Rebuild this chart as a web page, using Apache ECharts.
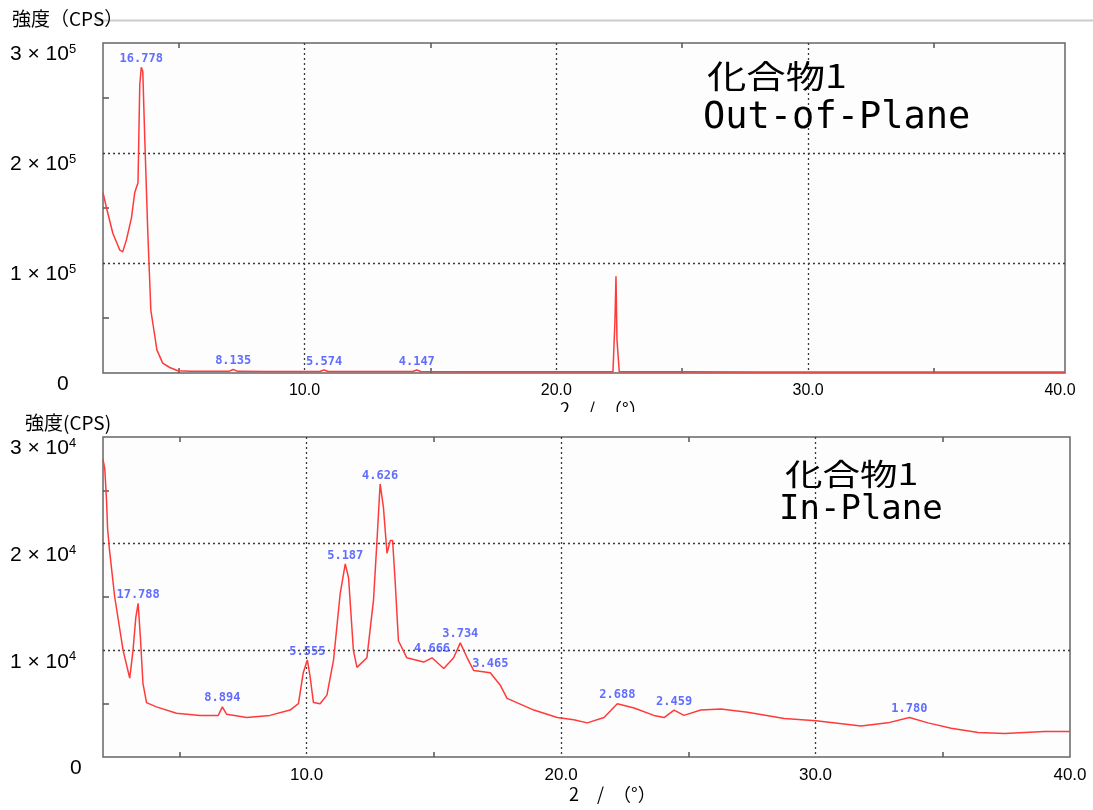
<!DOCTYPE html>
<html>
<head>
<meta charset="utf-8">
<script src="https://cdn.jsdelivr.net/npm/echarts@6/dist/echarts.min.js"></script>
<style>
html, body { margin: 0; background: #fff; }
#main { width: 1093px; height: 810px; }
</style>
</head>
<body>
<div id="main"></div>
<script>
// Out-of-Plane : 2θ (°) / 強度 (CPS)
var outX = [2.0, 2.14, 2.39, 2.66, 2.78, 2.93, 3.13, 3.26, 3.39, 3.46, 3.52, 3.58, 3.66, 3.78, 3.9, 3.98, 4.14, 4.37, 4.65, 4.97,
  5.5, 6.2, 7.0, 7.17, 7.35, 8.5, 10.6, 10.78, 10.95, 12.5, 14.3, 14.46, 14.62, 17.0, 20.0, 22.25, 22.33, 22.37, 22.41, 22.5,
  25.0, 28.0, 32.0, 36.0, 40.2];
var outY = [164000, 150000, 127000, 112000, 110000, 121000, 141000, 164000, 173000, 262000, 278000, 274000, 212000, 127000, 57000, 45000, 21000, 9000, 5000, 2000,
  1700, 1500, 1500, 3200, 1500, 1400, 1300, 2700, 1300, 1300, 1300, 2700, 1300, 1200, 1100, 1200, 48000, 88000, 30000, 1200,
  1100, 1000, 1000, 1000, 1000];
var outPeakX = [3.52, 7.17, 10.78, 14.46];
var outPeakY = [278000, 3200, 2700, 2700];
var outPeakText = ['16.778', '8.135', '5.574', '4.147'];

// In-Plane
var inX = [2.0, 2.07, 2.14, 2.18, 2.26, 2.46, 2.79, 3.05, 3.18, 3.29, 3.38, 3.47, 3.57, 3.71, 4.1, 4.89, 5.81, 6.53, 6.69, 6.86,
  7.65, 8.56, 9.35, 9.68, 9.87, 10.03, 10.14, 10.27, 10.53, 10.8, 11.06, 11.32, 11.52, 11.65, 11.84, 11.98, 12.37, 12.63, 12.76, 12.89,
  13.02, 13.16, 13.29, 13.38, 13.48, 13.61, 13.94, 14.6, 14.93, 15.39, 15.78, 16.04, 16.31, 16.57, 17.22, 17.62, 17.88, 18.93, 19.85, 20.5,
  21.03, 21.69, 22.21, 22.87, 23.65, 24.05, 24.44, 24.83, 25.49, 26.28, 27.33, 28.77, 30.02, 31.79, 32.84, 33.69, 34.42, 35.33, 36.39, 37.43,
  39.0, 40.0];
var inY = [27900, 27000, 24000, 21400, 19300, 15000, 10000, 7400, 10000, 13100, 14400, 11200, 6900, 5100, 4700, 4100, 3900, 3900, 4700, 4000,
  3700, 3900, 4400, 5000, 7900, 9100, 7500, 5100, 5000, 5800, 9100, 15300, 18100, 16800, 10000, 8400, 9300, 14700, 20000, 25600,
  23400, 19100, 20300, 20300, 16500, 10900, 9300, 8900, 9300, 8300, 9300, 10700, 9300, 8100, 7900, 6700, 5500, 4400, 3700, 3500,
  3200, 3700, 5000, 4600, 3900, 3700, 4400, 3900, 4400, 4500, 4200, 3600, 3400, 2900, 3200, 3700, 3200, 2700, 2300, 2200,
  2400, 2400];
var inPeakX = [3.38, 6.69, 10.03, 11.52, 12.89, 14.93, 16.04, 17.22, 22.21, 24.44, 33.69];
var inPeakY = [14400, 4700, 9100, 18100, 25600, 9300, 10700, 7900, 5000, 4400, 3700];
var inPeakText = ['17.788', '8.894', '5.555', '5.187', '4.626', '4.666', '3.734', '3.465', '2.688', '2.459', '1.780'];

var xLabelTicks = [10, 20, 30, 40];
var xMinorTicks = [5, 15, 25, 35];
var xGridTicks = [10, 20, 30];
var outYTicks = [0, 100000, 200000, 300000];
var outYMinor = [50000, 150000, 250000];
var outYGrid = [100000, 200000];
var inYTicks = [0, 10000, 20000, 30000];
var inYMinor = [5000, 15000, 25000];
var inYGrid = [10000, 20000];

var myChart = echarts.init(document.getElementById('main'));

var FONT = '"Liberation Sans", Arial, sans-serif';
var dotted = { show: true, lineStyle: { color: '#3a3a3a', width: 1.3, type: [2, 3] } };

function zip(xs, ys) {
  return xs.map(function (x, i) { return [x, ys[i]]; });
}
function peaks(xs, ys, txt) {
  return xs.map(function (x, i) { return { value: [x, ys[i]], name: txt[i] }; });
}
function yLabel(exp, zeroPad) {
  return {
    customValues: null,
    align: 'left',
    verticalAlign: 'top',
    color: '#000',
    formatter: function (v) {
      if (v === 0) return '{z|0}';
      return '{a|' + Math.round(v / Math.pow(10, exp)) + ' × 10}{s|' + exp + '}';
    },
    rich: {
      a: { fontSize: 21, fontFamily: FONT, color: '#000', verticalAlign: 'bottom', lineHeight: 22, padding: [3, 0, 0, 0] },
      s: { fontSize: 13, fontFamily: FONT, color: '#000', verticalAlign: 'top', lineHeight: 14 },
      z: { fontSize: 21, fontFamily: FONT, color: '#000', padding: [0, 0, 0, zeroPad], lineHeight: 22 }
    }
  };
}

function xAxes(gi, max, fontSize) {
  return [
    {
      type: 'value', gridIndex: gi, position: 'bottom', min: 2, max: max,
      axisLine: { show: false },
      axisTick: { show: true, inside: true, length: 5, customValues: xMinorTicks, lineStyle: { color: '#555', width: 1.5 } },
      axisLabel: {
        customValues: xLabelTicks, margin: 10, color: '#000', fontSize: fontSize, fontFamily: FONT,
        formatter: function (v) { return v.toFixed(1); }
      },
      splitLine: { show: false }
    },
    {
      type: 'value', gridIndex: gi, position: 'bottom', min: 2, max: max,
      axisLine: { show: false },
      axisTick: { show: false, customValues: xGridTicks },
      axisLabel: { show: false },
      splitLine: dotted
    },
    {
      type: 'value', gridIndex: gi, position: 'top', min: 2, max: max,
      axisLine: { show: false },
      axisTick: { show: true, inside: true, length: 5, customValues: xMinorTicks, lineStyle: { color: '#555', width: 1.5 } },
      axisLabel: { show: false },
      splitLine: { show: false }
    }
  ];
}

function yAxes(gi, max, labels, minor, grid, exp, zeroPad) {
  var lab = yLabel(exp, zeroPad);
  lab.customValues = labels;
  lab.margin = 93;
  return [
    {
      type: 'value', gridIndex: gi, position: 'left', min: 0, max: max,
      axisLine: { show: false },
      axisTick: { show: true, inside: true, length: 6, customValues: minor, lineStyle: { color: '#555', width: 1.5 } },
      axisLabel: lab,
      splitLine: { show: false }
    },
    {
      type: 'value', gridIndex: gi, position: 'left', min: 0, max: max,
      axisLine: { show: false },
      axisTick: { show: false, customValues: grid },
      axisLabel: { show: false },
      splitLine: dotted
    }
  ];
}

var lineStyle = { color: '#ff3a3a', width: 1.5 };
var peakLabel = {
  show: true, position: 'top', distance: 2, formatter: '{b}',
  fontFamily: '"DejaVu Sans Mono", monospace', fontSize: 12, fontWeight: 'bold', color: '#3848ff'
};

var option = {
  backgroundColor: '#ffffff',
  animation: false,
  grid: [
    { left: 103, right: 28, top: 43, height: 330, show: true, borderColor: '#666', borderWidth: 1.5, backgroundColor: '#fdfdfd', outerBoundsMode: 'none' },
    { left: 103, right: 23, top: 437, height: 320, show: true, borderColor: '#666', borderWidth: 1.5, backgroundColor: '#fdfdfd', outerBoundsMode: 'none' }
  ],
  xAxis: xAxes(0, 40.2, 16).concat(xAxes(1, 40, 17)),
  yAxis: yAxes(0, 300000, outYTicks, outYMinor, outYGrid, 5, 47).concat(yAxes(1, 30000, inYTicks, inYMinor, inYGrid, 4, 60)),
  series: [
    {
      type: 'line', xAxisIndex: 0, yAxisIndex: 0, data: zip(outX, outY),
      showSymbol: false, lineStyle: lineStyle, silent: true
    },
    {
      type: 'scatter', xAxisIndex: 0, yAxisIndex: 0, data: peaks(outPeakX, outPeakY, outPeakText),
      symbolSize: 1, itemStyle: { color: 'rgba(0,0,0,0)' }, label: peakLabel, silent: true
    },
    {
      type: 'line', xAxisIndex: 3, yAxisIndex: 2, data: zip(inX, inY),
      showSymbol: false, lineStyle: lineStyle, silent: true
    },
    {
      type: 'scatter', xAxisIndex: 3, yAxisIndex: 2, data: peaks(inPeakX, inPeakY, inPeakText),
      symbolSize: 1, itemStyle: { color: 'rgba(0,0,0,0)' }, label: peakLabel, silent: true
    }
  ],
  graphic: [
    { type: 'line', shape: { x1: 95, y1: 20.5, x2: 1093, y2: 20.5 }, style: { stroke: '#d0cbc6', lineWidth: 2 }, z: 1 },
    { type: 'text', left: 12, top: 9, z: 5, style: { text: '強度（CPS）', font: '19px "Noto Sans CJK JP", sans-serif', fill: '#000' } },
    { type: 'text', left: 25, top: 413, z: 5, style: { text: '強度(CPS)', font: '19px "Noto Sans CJK JP", sans-serif', fill: '#000' } },
    { type: 'text', left: 707, top: 60, z: 5, scaleX: 1.23, style: { text: '化合物1', font: '32px "Noto Sans CJK JP", sans-serif', fill: '#000' } },
    { type: 'text', left: 703, top: 100, z: 5, style: { text: 'Out-of-Plane', font: '37px "DejaVu Sans Mono", monospace', fill: '#000' } },
    { type: 'text', left: 785, top: 459, z: 5, scaleX: 1.25, style: { text: '化合物1', font: '30px "Noto Sans CJK JP", sans-serif', fill: '#000' } },
    { type: 'text', left: 779, top: 493, z: 5, style: { text: 'In-Plane', font: '34px "DejaVu Sans Mono", monospace', fill: '#000' } },
    { type: 'text', left: 560, top: 400, z: 3, style: { text: '2　/　（°）', font: '18px "Noto Sans CJK JP", sans-serif', fill: '#000' } },
    { type: 'rect', shape: { x: 540, y: 412, width: 160, height: 22 }, style: { fill: '#ffffff' }, z: 4 },
    { type: 'text', left: 569, top: 785, z: 5, style: { text: '2　/　（°）', font: '18px "Noto Sans CJK JP", sans-serif', fill: '#000' } }
  ]
};

myChart.setOption(option);
</script>
</body>
</html>
